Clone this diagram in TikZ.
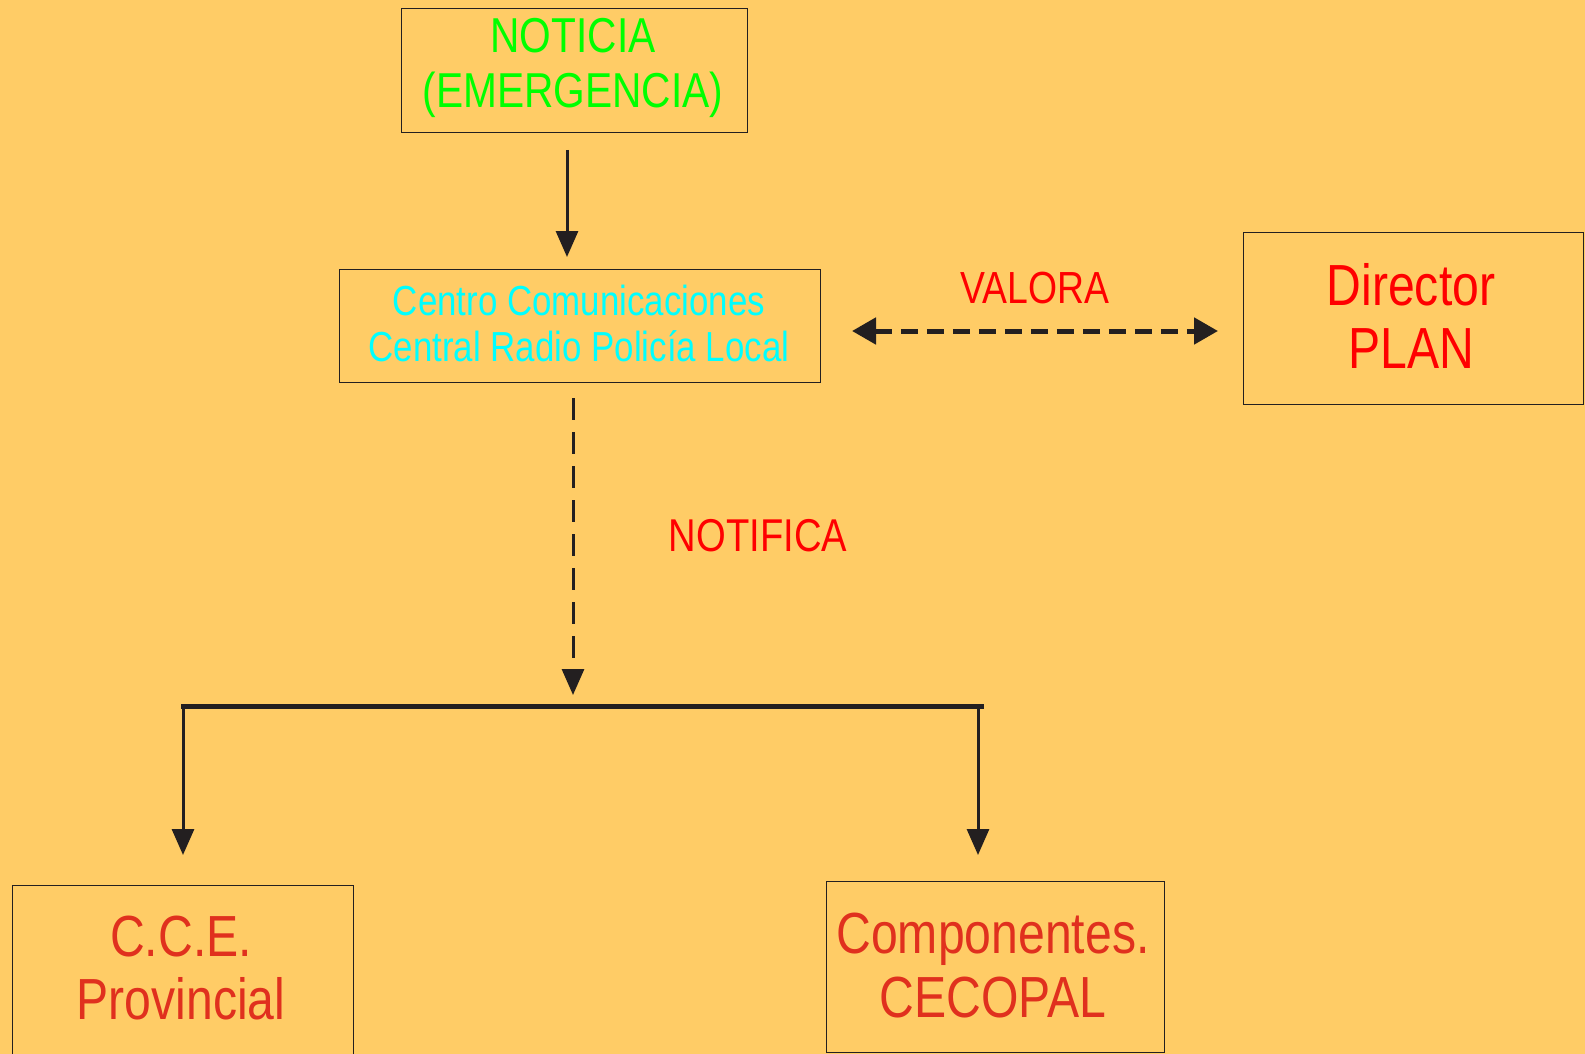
\documentclass[tikz,border=0pt]{standalone}
\usepackage{fontspec}
\usetikzlibrary{arrows.meta}
\newfontfamily\nf[FakeStretch=0.83]{Liberation Sans}
\definecolor{bg}{HTML}{FFCC66}
\definecolor{ln}{HTML}{231F20}
\definecolor{grn}{HTML}{00FF00}
\definecolor{cyn}{HTML}{00FFFF}
\definecolor{rd}{HTML}{FF0000}
\definecolor{rd2}{HTML}{E0301E}
\tikzset{
  box/.style={draw=ln, line width=1pt, fill=bg, inner sep=0pt},
  txt/.style={align=center, inner sep=0pt},
  conn/.style={draw=ln, line width=3pt, -{Triangle[width=22pt,length=26pt]}},
  lbl/.style={text=rd, inner sep=0pt},
}
\begin{document}
\begin{tikzpicture}[x=1pt,y=-1pt]
\fill[bg] (0,0) rectangle (1585,1054);
\useasboundingbox (0,0) rectangle (1585,1054);

\node[box, minimum width=346pt, minimum height=124pt] (top) at (574,71) {};
\node[txt, text=grn, font=\nf\fontsize{49}{55}\selectfont] (toptxt) at (573,68)
  {NOTICIA\\(EMERGENCIA)};
\node[box, minimum width=481pt, minimum height=113pt] (centro) at (579.5,325.5) {};
\node[txt, text=cyn, font=\nf\fontsize{42}{46}\selectfont] (centrotxt) at (579,323)
  {Centro Comunicaciones\\Central Radio Polic\'ia Local};
\node[box, minimum width=340pt, minimum height=172pt] (dir) at (1413,318) {};
\node[txt, text=rd, font=\nf\fontsize{58}{63}\selectfont] (dirtxt) at (1411,316)
  {Director\\PLAN};
\node[box, minimum width=341pt, minimum height=175pt] (cce) at (182.5,972.5) {};
\node[txt, text=rd2, font=\nf\fontsize{58}{63}\selectfont] (ccetxt) at (181,968)
  {C.C.E.\\Provincial};
\node[box, minimum width=338pt, minimum height=171pt] (comp) at (995,966.5) {};
\node[txt, text=rd2, font=\nf\fontsize{58}{64}\selectfont] (comptxt) at (993,966)
  {Componentes.\\CECOPAL};

\node[lbl, font=\nf\fontsize{45}{50}\selectfont] (valora) at (1035,288) {VALORA};
\node[lbl, font=\nf\fontsize{46}{50}\selectfont] (notifica) at (758,536) {NOTIFICA};

\coordinate (a1s) at (567,150);
\coordinate (a1e) at (567,257);
\coordinate (vl) at (852,331);
\coordinate (vr) at (1218,331);
\coordinate (ns) at (573,398);
\coordinate (ne) at (573,695);
\coordinate (hl) at (183,706);
\coordinate (hr) at (981,706);
\coordinate (ll) at (183,855);
\coordinate (rt) at (978,706);
\coordinate (rr) at (978,855);

\draw[conn] (a1s) -- (a1e);
\draw[draw=ln, line width=5pt, dash pattern=on 17pt off 9pt,
  {Triangle[width=26pt,length=24pt]}-{Triangle[width=26pt,length=24pt]}] (vl) -- (vr);
\draw[conn, dash pattern=on 22pt off 12pt] (ns) -- (ne);
\draw[draw=ln, line width=5pt, line cap=rect] (hl) -- (hr);
\draw[conn] (hl) -- (ll);
\draw[conn] (rt) -- (rr);
\end{tikzpicture}
\end{document}
